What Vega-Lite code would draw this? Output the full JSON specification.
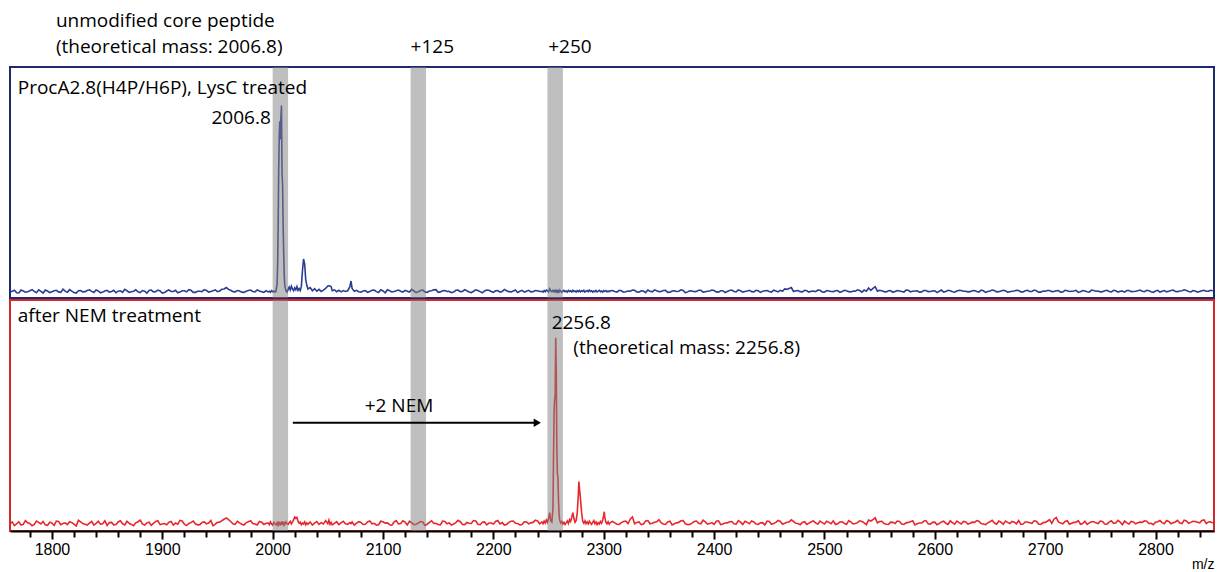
{
"$schema": "https://vega.github.io/schema/vega-lite/v6.json",
"padding": {"left": 9, "top": 0, "right": 6, "bottom": 0},
"background": "white",
"spacing": 0,
"config": {"view": {"strokeWidth": 2}, "axis": {"grid": false}, "text": {"font": "Open Sans"}},
"datasets": {
"bands": [{"start": 2000, "end": 2014}, {"start": 2125, "end": 2139}, {"start": 2249, "end": 2263}],
"spec": [
{"mz":1762,"a":0.6,"b":1.2},{"mz":1766,"a":1.4,"b":0.4},{"mz":1770,"a":0.2,"b":2.1},{"mz":1774,"a":1.1,"b":0.9},{"mz":1778,"a":0.8,"b":1.6},{"mz":1782,"a":1.7,"b":0.3},{"mz":1786,"a":0.3,"b":2.4},{"mz":1790,"a":0.9,"b":1.1},{"mz":1794,"a":1.5,"b":0.7},{"mz":1798,"a":0.4,"b":1.9},
{"mz":1802,"a":1.2,"b":0.5},{"mz":1806,"a":0.7,"b":2.2},{"mz":1810,"a":1.9,"b":1.3},{"mz":1814,"a":0.5,"b":0.8},{"mz":1818,"a":1.0,"b":1.7},{"mz":1822,"a":0.2,"b":0.2},{"mz":1826,"a":1.3,"b":2.0},{"mz":1830,"a":0.8,"b":1.0},{"mz":1834,"a":1.6,"b":1.5},{"mz":1838,"a":0.4,"b":0.6},
{"mz":1842,"a":1.1,"b":2.3},{"mz":1846,"a":0.6,"b":1.2},{"mz":1850,"a":1.4,"b":0.4},{"mz":1854,"a":0.9,"b":1.8},{"mz":1858,"a":0.3,"b":0.9},{"mz":1862,"a":1.2,"b":2.5},{"mz":1866,"a":1.8,"b":0.7},{"mz":1870,"a":0.5,"b":1.4},{"mz":1874,"a":1.0,"b":0.3},{"mz":1878,"a":0.7,"b":2.1},
{"mz":1882,"a":1.3,"b":1.1},{"mz":1886,"a":0.2,"b":1.6},{"mz":1890,"a":1.5,"b":0.5},{"mz":1894,"a":0.8,"b":2.2},{"mz":1898,"a":1.1,"b":0.8},{"mz":1902,"a":0.4,"b":1.3},{"mz":1906,"a":1.6,"b":1.9},{"mz":1910,"a":0.9,"b":0.6},{"mz":1914,"a":0.3,"b":1.0},{"mz":1918,"a":1.2,"b":2.4},
{"mz":1922,"a":0.7,"b":0.4},{"mz":1926,"a":1.4,"b":1.7},{"mz":1930,"a":0.5,"b":1.2},{"mz":1934,"a":1.0,"b":0.8},{"mz":1938,"a":1.7,"b":2.0},{"mz":1942,"a":0.6,"b":1.5},{"mz":1946,"a":1.2,"b":0.3},{"mz":1950,"a":0.8,"b":1.8},{"mz":1954,"a":1.9,"b":2.6},{"mz":1958,"a":2.6,"b":3.8},
{"mz":1962,"a":1.4,"b":2.2},{"mz":1966,"a":0.7,"b":0.9},{"mz":1970,"a":1.1,"b":1.6},{"mz":1974,"a":0.5,"b":0.6},{"mz":1978,"a":1.3,"b":2.1},{"mz":1982,"a":0.9,"b":1.3},{"mz":1986,"a":1.6,"b":0.7},{"mz":1990,"a":0.8,"b":1.9},{"mz":1994,"a":1.2,"b":1.4},
{"mz":1996,"a":0.7,"b":1.5},{"mz":1997,"a":1.0,"b":0.8},{"mz":1998,"a":0.5,"b":2.0},{"mz":1999,"a":1.2,"b":1.1},{"mz":2000,"a":0.8,"b":0.6},{"mz":2001,"a":1.1,"b":1.8},{"mz":2002,"a":0.6,"b":1.2},{"mz":2003,"a":1.0,"b":0.7},
{"mz":2004,"a":4,"b":1.6},{"mz":2004.5,"a":12,"b":1.0},{"mz":2005,"a":30,"b":2.1},{"mz":2005.5,"a":55,"b":0.9},{"mz":2006,"a":70,"b":1.4},{"mz":2006.5,"a":76,"b":0.6},{"mz":2007,"a":68,"b":1.9},{"mz":2007.5,"a":78,"b":1.1},{"mz":2008,"a":83,"b":1.6},{"mz":2008.5,"a":53,"b":0.8},{"mz":2009,"a":48,"b":2.2},{"mz":2009.5,"a":30,"b":1.3},{"mz":2010,"a":18,"b":0.7},{"mz":2010.5,"a":8,"b":1.5},{"mz":2011,"a":3.5,"b":1.0},
{"mz":2012,"a":1.2,"b":2.0},{"mz":2013,"a":0.6,"b":1.2},{"mz":2014,"a":1.8,"b":0.9},{"mz":2015,"a":2.8,"b":1.7},{"mz":2016,"a":1.5,"b":2.3},{"mz":2017,"a":3.2,"b":1.1},{"mz":2018,"a":2.0,"b":2.0},{"mz":2019,"a":1.2,"b":3.0},{"mz":2020,"a":2.5,"b":4.2},{"mz":2021,"a":1.6,"b":3.6},{"mz":2022,"a":3.0,"b":4.0},{"mz":2023,"a":1.4,"b":2.2},{"mz":2024,"a":2.2,"b":1.4},{"mz":2025,"a":1.3,"b":1.9},{"mz":2026,"a":3.0,"b":0.8},{"mz":2027,"a":10,"b":1.5},{"mz":2028,"a":15.2,"b":1.1},{"mz":2029,"a":13,"b":2.0},{"mz":2030,"a":6,"b":0.7},{"mz":2031,"a":3.5,"b":1.6},{"mz":2032,"a":2.0,"b":1.0},
{"mz":2034,"a":2.6,"b":2.0},{"mz":2036,"a":1.2,"b":0.6},{"mz":2038,"a":2.1,"b":1.5},{"mz":2040,"a":1.0,"b":2.2},{"mz":2042,"a":1.8,"b":0.9},{"mz":2044,"a":0.9,"b":1.7},{"mz":2046,"a":1.5,"b":1.1},{"mz":2048,"a":2.2,"b":2.6},{"mz":2050,"a":3.3,"b":1.2},{"mz":2051,"a":3.4,"b":2.8},{"mz":2052,"a":3.3,"b":1.0},{"mz":2053,"a":3.0,"b":1.8},{"mz":2054,"a":1.2,"b":0.7},{"mz":2056,"a":1.6,"b":1.4},{"mz":2058,"a":0.8,"b":2.1},{"mz":2060,"a":1.4,"b":0.8},{"mz":2062,"a":0.7,"b":1.6},{"mz":2064,"a":1.3,"b":2.3},{"mz":2066,"a":0.9,"b":1.2},{"mz":2068,"a":1.2,"b":0.9},{"mz":2070,"a":3.0,"b":1.7},{"mz":2071,"a":5.5,"b":1.3},{"mz":2072,"a":2.2,"b":2.0},{"mz":2074,"a":1.0,"b":0.6},{"mz":2076,"a":1.4,"b":1.5},{"mz":2078,"a":0.8,"b":2.1},
{"mz":2082,"a":1.1,"b":0.9},{"mz":2086,"a":0.5,"b":2.0},{"mz":2090,"a":1.4,"b":1.2},{"mz":2094,"a":0.8,"b":0.6},{"mz":2098,"a":1.6,"b":2.3},{"mz":2102,"a":0.3,"b":1.5},{"mz":2106,"a":1.2,"b":0.8},{"mz":2110,"a":0.9,"b":1.9},{"mz":2114,"a":1.5,"b":1.1},{"mz":2118,"a":0.6,"b":2.5},
{"mz":2122,"a":1.0,"b":0.7},{"mz":2126,"a":1.8,"b":1.6},{"mz":2130,"a":0.4,"b":1.0},{"mz":2134,"a":1.3,"b":2.2},{"mz":2138,"a":0.7,"b":0.5},{"mz":2142,"a":1.1,"b":1.8},{"mz":2146,"a":1.6,"b":1.3},{"mz":2150,"a":0.5,"b":0.9},{"mz":2154,"a":1.2,"b":2.4},{"mz":2158,"a":0.9,"b":1.2},
{"mz":2162,"a":0.4,"b":0.6},{"mz":2166,"a":1.4,"b":1.7},{"mz":2170,"a":0.8,"b":2.1},{"mz":2174,"a":1.7,"b":0.8},{"mz":2178,"a":0.6,"b":1.4},{"mz":2182,"a":1.0,"b":2.6},{"mz":2186,"a":1.3,"b":1.0},{"mz":2190,"a":0.3,"b":1.9},{"mz":2194,"a":1.5,"b":0.7},{"mz":2198,"a":0.9,"b":1.5},
{"mz":2202,"a":1.2,"b":2.2},{"mz":2206,"a":0.6,"b":1.1},{"mz":2210,"a":1.8,"b":0.6},{"mz":2214,"a":0.8,"b":1.8},{"mz":2218,"a":1.1,"b":2.4},{"mz":2222,"a":0.4,"b":1.3},{"mz":2226,"a":1.4,"b":0.9},{"mz":2230,"a":1.0,"b":2.0},{"mz":2234,"a":0.7,"b":1.6},{"mz":2238,"a":1.3,"b":2.8},{"mz":2242,"a":0.9,"b":1.2},
{"mz":2244,"a":1.0,"b":2.0},{"mz":2245,"a":0.6,"b":1.2},{"mz":2246,"a":1.3,"b":2.4},{"mz":2247,"a":0.8,"b":1.5},{"mz":2248,"a":1.5,"b":2.8},{"mz":2249,"a":1.1,"b":1.8},{"mz":2250,"a":0.7,"b":3.5},{"mz":2251,"a":2.0,"b":6.1},{"mz":2252,"a":1.2,"b":2.5},{"mz":2253,"a":0.8,"b":2.0},
{"mz":2254,"a":1.4,"b":8},{"mz":2254.5,"a":1.0,"b":30},{"mz":2255,"a":0.7,"b":50},{"mz":2255.5,"a":1.2,"b":56},{"mz":2256,"a":0.9,"b":58},{"mz":2256.5,"a":1.3,"b":83.3},{"mz":2257,"a":0.8,"b":68},{"mz":2257.5,"a":1.1,"b":35},{"mz":2258,"a":0.6,"b":23},{"mz":2258.5,"a":1.2,"b":22},{"mz":2259,"a":0.9,"b":12},{"mz":2259.5,"a":1.4,"b":6},{"mz":2260,"a":0.7,"b":3},
{"mz":2261,"a":1.2,"b":1.6},{"mz":2262,"a":0.5,"b":2.2},{"mz":2263,"a":1.0,"b":1.0},{"mz":2264,"a":1.4,"b":1.8},{"mz":2265,"a":0.8,"b":0.9},{"mz":2266,"a":1.1,"b":1.6},{"mz":2267,"a":0.6,"b":2.4},{"mz":2268,"a":1.3,"b":1.3},{"mz":2269,"a":0.9,"b":3.0},{"mz":2270,"a":1.2,"b":2.2},{"mz":2271,"a":0.7,"b":4.0},{"mz":2272,"a":1.4,"b":6.1},{"mz":2273,"a":0.9,"b":3.5},{"mz":2274,"a":1.1,"b":1.8},{"mz":2275,"a":0.6,"b":2.6},{"mz":2276,"a":1.2,"b":6},{"mz":2277,"a":0.8,"b":14},{"mz":2277.5,"a":1.0,"b":19.8},{"mz":2278,"a":1.3,"b":17},{"mz":2279,"a":0.7,"b":12},{"mz":2280,"a":1.2,"b":6},{"mz":2281,"a":0.9,"b":2.2},
{"mz":2282,"a":1.4,"b":1.4},{"mz":2283,"a":0.6,"b":2.5},{"mz":2284,"a":1.0,"b":1.2},{"mz":2285,"a":1.3,"b":2.0},{"mz":2286,"a":0.8,"b":1.1},{"mz":2287,"a":1.5,"b":2.3},{"mz":2288,"a":0.9,"b":1.5},{"mz":2289,"a":1.2,"b":0.9},{"mz":2290,"a":0.6,"b":1.8},{"mz":2291,"a":1.1,"b":2.6},{"mz":2292,"a":0.8,"b":1.2},{"mz":2293,"a":1.3,"b":2.0},{"mz":2294,"a":0.7,"b":0.8},{"mz":2295,"a":1.0,"b":1.7},{"mz":2296,"a":1.4,"b":1.1},{"mz":2297,"a":0.8,"b":2.2},{"mz":2298,"a":1.1,"b":1.4},{"mz":2299,"a":0.6,"b":2.6},{"mz":2300,"a":1.2,"b":5.0},{"mz":2300.5,"a":1.0,"b":6.5},{"mz":2301,"a":0.9,"b":4.0},{"mz":2302,"a":1.3,"b":1.8},{"mz":2303,"a":0.7,"b":1.2},{"mz":2304,"a":1.1,"b":2.1},{"mz":2305,"a":0.8,"b":1.0},{"mz":2306,"a":1.2,"b":1.7},
{"mz":2310,"a":0.9,"b":1.6},{"mz":2314,"a":1.4,"b":0.9},{"mz":2318,"a":0.6,"b":2.2},{"mz":2322,"a":1.1,"b":1.3},{"mz":2326,"a":1.5,"b":4.2},{"mz":2330,"a":0.7,"b":1.8},{"mz":2334,"a":1.2,"b":0.8},{"mz":2338,"a":0.4,"b":2.4},{"mz":2342,"a":1.0,"b":1.2},{"mz":2346,"a":1.6,"b":1.9},
{"mz":2350,"a":0.8,"b":3.0},{"mz":2354,"a":1.3,"b":1.1},{"mz":2358,"a":0.5,"b":2.0},{"mz":2362,"a":1.1,"b":0.7},{"mz":2366,"a":0.9,"b":1.6},{"mz":2370,"a":1.6,"b":2.5},{"mz":2374,"a":0.3,"b":1.2},{"mz":2378,"a":1.2,"b":0.9},{"mz":2382,"a":0.8,"b":2.2},{"mz":2386,"a":1.4,"b":1.4},
{"mz":2390,"a":0.6,"b":2.8},{"mz":2394,"a":1.0,"b":1.0},{"mz":2398,"a":1.5,"b":1.7},{"mz":2402,"a":0.7,"b":2.3},{"mz":2406,"a":1.2,"b":0.8},{"mz":2410,"a":0.4,"b":1.5},{"mz":2414,"a":1.3,"b":2.1},{"mz":2418,"a":0.9,"b":1.2},{"mz":2422,"a":1.6,"b":2.6},{"mz":2426,"a":0.6,"b":0.9},
{"mz":2430,"a":1.1,"b":1.8},{"mz":2434,"a":0.8,"b":2.4},{"mz":2438,"a":1.4,"b":1.1},{"mz":2442,"a":0.5,"b":1.6},{"mz":2446,"a":1.2,"b":0.7},{"mz":2450,"a":0.9,"b":2.2},{"mz":2454,"a":1.5,"b":1.3},{"mz":2458,"a":0.7,"b":2.7},{"mz":2462,"a":1.0,"b":1.0},{"mz":2466,"a":1.8,"b":1.9},
{"mz":2470,"a":2.6,"b":2.9},{"mz":2474,"a":1.2,"b":1.4},{"mz":2478,"a":0.8,"b":0.8},{"mz":2482,"a":1.4,"b":2.1},{"mz":2486,"a":0.6,"b":1.5},{"mz":2490,"a":1.1,"b":2.5},{"mz":2494,"a":1.5,"b":1.0},{"mz":2498,"a":0.7,"b":1.7},{"mz":2502,"a":1.3,"b":2.3},{"mz":2506,"a":0.9,"b":1.2},
{"mz":2510,"a":1.2,"b":0.9},{"mz":2514,"a":0.5,"b":2.0},{"mz":2518,"a":1.4,"b":1.4},{"mz":2522,"a":0.8,"b":2.6},{"mz":2526,"a":1.1,"b":1.1},{"mz":2530,"a":1.6,"b":1.7},{"mz":2534,"a":0.6,"b":2.2},{"mz":2538,"a":1.0,"b":0.8},{"mz":2542,"a":1.4,"b":2.4},{"mz":2546,"a":3.0,"b":3.8},
{"mz":2550,"a":1.4,"b":2.2},{"mz":2554,"a":0.8,"b":1.3},{"mz":2558,"a":1.2,"b":0.9},{"mz":2562,"a":0.5,"b":1.8},{"mz":2566,"a":1.3,"b":2.4},{"mz":2570,"a":0.9,"b":1.1},{"mz":2574,"a":1.5,"b":1.6},{"mz":2578,"a":0.7,"b":2.1},{"mz":2582,"a":1.1,"b":0.7},{"mz":2586,"a":0.6,"b":1.5},
{"mz":2590,"a":1.3,"b":2.3},{"mz":2594,"a":0.8,"b":1.2},{"mz":2598,"a":1.1,"b":1.8},{"mz":2602,"a":0.4,"b":0.8},{"mz":2606,"a":1.5,"b":2.0},{"mz":2610,"a":0.9,"b":1.4},{"mz":2614,"a":1.2,"b":2.5},{"mz":2618,"a":0.6,"b":1.0},{"mz":2622,"a":1.4,"b":1.7},{"mz":2626,"a":1.0,"b":2.2},
{"mz":2630,"a":0.7,"b":1.1},{"mz":2634,"a":1.2,"b":1.9},{"mz":2638,"a":0.9,"b":2.6},{"mz":2642,"a":1.5,"b":1.3},{"mz":2646,"a":0.5,"b":0.8},{"mz":2650,"a":1.1,"b":2.1},{"mz":2654,"a":1.3,"b":1.5},{"mz":2658,"a":0.8,"b":2.4},{"mz":2662,"a":1.4,"b":1.0},{"mz":2666,"a":0.6,"b":1.8},
{"mz":2670,"a":1.0,"b":2.2},{"mz":2674,"a":1.4,"b":1.2},{"mz":2678,"a":0.7,"b":0.9},{"mz":2682,"a":1.2,"b":2.0},{"mz":2686,"a":0.9,"b":1.6},{"mz":2690,"a":1.5,"b":2.5},{"mz":2694,"a":0.6,"b":1.1},{"mz":2698,"a":1.1,"b":1.7},{"mz":2702,"a":1.3,"b":2.3},{"mz":2706,"a":0.8,"b":1.4},
{"mz":2710,"a":1.2,"b":4.0},{"mz":2714,"a":0.6,"b":1.5},{"mz":2718,"a":1.4,"b":2.2},{"mz":2722,"a":0.9,"b":1.0},{"mz":2726,"a":1.1,"b":1.8},{"mz":2730,"a":0.5,"b":2.6},{"mz":2734,"a":1.3,"b":1.3},{"mz":2738,"a":0.8,"b":0.9},{"mz":2742,"a":1.5,"b":2.1},{"mz":2746,"a":1.0,"b":1.6},
{"mz":2750,"a":0.7,"b":2.4},{"mz":2754,"a":1.2,"b":1.1},{"mz":2758,"a":0.9,"b":1.9},{"mz":2762,"a":1.4,"b":1.4},{"mz":2766,"a":0.6,"b":2.7},{"mz":2770,"a":1.1,"b":0.8},{"mz":2774,"a":1.3,"b":1.6},{"mz":2778,"a":0.8,"b":2.2},{"mz":2782,"a":1.0,"b":1.2},{"mz":2786,"a":1.5,"b":1.9},
{"mz":2790,"a":0.8,"b":2.5},{"mz":2794,"a":1.2,"b":1.3},{"mz":2798,"a":0.5,"b":0.8},{"mz":2802,"a":1.4,"b":2.1},{"mz":2806,"a":1.0,"b":1.7},{"mz":2810,"a":0.7,"b":2.6},{"mz":2814,"a":1.3,"b":1.2},{"mz":2818,"a":0.9,"b":2.0},{"mz":2822,"a":1.1,"b":1.5},{"mz":2826,"a":1.6,"b":2.8},
{"mz":2830,"a":0.9,"b":1.4},{"mz":2834,"a":1.3,"b":2.3},{"mz":2838,"a":0.6,"b":1.9},{"mz":2842,"a":1.2,"b":2.7},{"mz":2846,"a":1.0,"b":1.3},{"mz":2850,"a":1.4,"b":2.1},
{"mz":1764,"a":1.0,"b":2.0},{"mz":1768,"a":0.3,"b":1.1},{"mz":1772,"a":1.5,"b":0.6},{"mz":1776,"a":0.6,"b":2.6},{"mz":1780,"a":1.2,"b":1.3},{"mz":1784,"a":0.9,"b":0.9},{"mz":1788,"a":1.6,"b":1.8},{"mz":1792,"a":0.2,"b":2.2},{"mz":1796,"a":1.1,"b":0.5},{"mz":1800,"a":0.8,"b":1.5},
{"mz":1804,"a":1.4,"b":2.4},{"mz":1808,"a":0.5,"b":0.8},{"mz":1812,"a":1.0,"b":1.6},{"mz":1816,"a":1.7,"b":2.1},{"mz":1820,"a":0.4,"b":1.0},{"mz":1824,"a":1.2,"b":2.7},{"mz":1828,"a":0.7,"b":1.3},{"mz":1832,"a":1.3,"b":0.6},{"mz":1836,"a":0.9,"b":2.2},{"mz":1840,"a":1.5,"b":1.4},
{"mz":1844,"a":0.3,"b":1.0},{"mz":1848,"a":1.1,"b":2.5},{"mz":1852,"a":0.6,"b":1.7},{"mz":1856,"a":1.4,"b":0.7},{"mz":1860,"a":1.0,"b":2.0},{"mz":1864,"a":0.5,"b":1.2},{"mz":1868,"a":1.2,"b":2.3},{"mz":1872,"a":0.8,"b":0.9},{"mz":1876,"a":1.6,"b":1.6},{"mz":1880,"a":0.4,"b":2.8},
{"mz":1884,"a":1.0,"b":0.6},{"mz":1888,"a":1.3,"b":1.9},{"mz":1892,"a":0.7,"b":1.4},{"mz":1896,"a":1.5,"b":2.5},{"mz":1900,"a":0.2,"b":1.1},{"mz":1904,"a":1.1,"b":0.8},{"mz":1908,"a":0.9,"b":2.2},{"mz":1912,"a":1.4,"b":1.5},{"mz":1916,"a":0.6,"b":2.7},{"mz":1920,"a":1.2,"b":1.0},
{"mz":1924,"a":1.7,"b":1.3},{"mz":1928,"a":0.5,"b":2.4},{"mz":1932,"a":1.0,"b":0.7},{"mz":1936,"a":0.8,"b":1.8},{"mz":1940,"a":1.3,"b":1.2},{"mz":1944,"a":0.9,"b":2.6},{"mz":1948,"a":1.6,"b":1.0},{"mz":1952,"a":1.1,"b":1.9},{"mz":1956,"a":2.0,"b":3.2},{"mz":1960,"a":1.8,"b":3.0},
{"mz":1964,"a":0.8,"b":1.2},{"mz":1968,"a":1.3,"b":2.3},{"mz":1972,"a":0.6,"b":1.0},{"mz":1976,"a":1.0,"b":1.7},{"mz":1980,"a":1.5,"b":2.5},{"mz":1984,"a":0.7,"b":1.1},{"mz":1988,"a":1.1,"b":2.2},{"mz":1992,"a":0.5,"b":0.9},
{"mz":2080,"a":0.6,"b":1.8},{"mz":2084,"a":1.3,"b":1.0},{"mz":2088,"a":0.9,"b":2.4},{"mz":2092,"a":1.5,"b":1.4},{"mz":2096,"a":0.4,"b":0.8},{"mz":2100,"a":1.1,"b":2.1},{"mz":2104,"a":1.6,"b":1.6},{"mz":2108,"a":0.7,"b":0.6},{"mz":2112,"a":1.2,"b":2.6},{"mz":2116,"a":1.0,"b":1.3},
{"mz":2120,"a":1.4,"b":1.9},{"mz":2124,"a":0.6,"b":2.3},{"mz":2128,"a":1.1,"b":0.8},{"mz":2132,"a":0.8,"b":1.5},{"mz":2136,"a":1.5,"b":2.0},{"mz":2140,"a":0.5,"b":1.0},{"mz":2144,"a":1.2,"b":2.5},{"mz":2148,"a":1.7,"b":1.4},{"mz":2152,"a":0.7,"b":0.7},{"mz":2156,"a":1.3,"b":2.2},
{"mz":2160,"a":1.0,"b":1.6},{"mz":2164,"a":0.6,"b":1.1},{"mz":2168,"a":1.5,"b":2.7},{"mz":2172,"a":0.9,"b":0.9},{"mz":2176,"a":1.2,"b":1.8},{"mz":2180,"a":0.4,"b":1.3},{"mz":2184,"a":1.6,"b":2.4},{"mz":2188,"a":0.8,"b":0.8},{"mz":2192,"a":1.1,"b":2.0},{"mz":2196,"a":1.4,"b":1.5},
{"mz":2200,"a":0.5,"b":1.1},{"mz":2204,"a":1.3,"b":2.6},{"mz":2208,"a":0.9,"b":1.7},{"mz":2212,"a":1.2,"b":0.9},{"mz":2216,"a":0.7,"b":2.3},{"mz":2220,"a":1.5,"b":1.4},{"mz":2224,"a":1.0,"b":0.7},{"mz":2228,"a":0.6,"b":2.1},{"mz":2232,"a":1.4,"b":1.2},{"mz":2236,"a":0.8,"b":1.8},{"mz":2240,"a":1.2,"b":2.4},
{"mz":2308,"a":1.3,"b":2.2},{"mz":2312,"a":0.6,"b":1.0},{"mz":2316,"a":1.2,"b":1.7},{"mz":2320,"a":0.8,"b":2.4},{"mz":2324,"a":1.0,"b":3.2},{"mz":2328,"a":1.4,"b":1.2},{"mz":2332,"a":0.6,"b":2.0},{"mz":2336,"a":1.1,"b":1.1},{"mz":2340,"a":1.5,"b":2.6},{"mz":2344,"a":0.7,"b":1.4},
{"mz":2348,"a":1.2,"b":2.1},{"mz":2352,"a":0.9,"b":1.7},{"mz":2356,"a":1.4,"b":0.9},{"mz":2360,"a":0.6,"b":2.3},{"mz":2364,"a":1.2,"b":1.2},{"mz":2368,"a":1.0,"b":1.8},{"mz":2372,"a":1.3,"b":2.6},{"mz":2376,"a":0.7,"b":0.8},{"mz":2380,"a":1.1,"b":1.5},{"mz":2384,"a":0.9,"b":2.4},
{"mz":2388,"a":1.4,"b":1.2},{"mz":2392,"a":0.8,"b":2.0},{"mz":2396,"a":1.1,"b":1.3},{"mz":2400,"a":1.3,"b":0.9},{"mz":2404,"a":0.6,"b":2.5},{"mz":2408,"a":1.2,"b":1.1},{"mz":2412,"a":0.9,"b":1.6},{"mz":2416,"a":1.5,"b":2.2},{"mz":2420,"a":0.7,"b":1.0},{"mz":2424,"a":1.2,"b":1.9},
{"mz":2428,"a":0.9,"b":2.3},{"mz":2432,"a":1.4,"b":1.2},{"mz":2436,"a":0.7,"b":2.0},{"mz":2440,"a":1.2,"b":0.9},{"mz":2444,"a":1.0,"b":1.7},{"mz":2448,"a":1.3,"b":2.4},{"mz":2452,"a":0.6,"b":1.0},{"mz":2456,"a":1.1,"b":1.8},{"mz":2460,"a":1.4,"b":2.2},{"mz":2464,"a":2.0,"b":1.4},
{"mz":2468,"a":2.2,"b":2.0},{"mz":2472,"a":0.9,"b":2.2},{"mz":2476,"a":1.3,"b":1.3},{"mz":2480,"a":0.7,"b":1.8},{"mz":2484,"a":1.2,"b":0.9},{"mz":2488,"a":1.0,"b":2.1},{"mz":2492,"a":0.8,"b":1.6},{"mz":2496,"a":1.4,"b":2.4},{"mz":2500,"a":0.6,"b":1.1},{"mz":2504,"a":1.1,"b":1.8},
{"mz":2508,"a":0.8,"b":2.5},{"mz":2512,"a":1.3,"b":1.2},{"mz":2516,"a":0.9,"b":2.1},{"mz":2520,"a":1.2,"b":0.9},{"mz":2524,"a":0.7,"b":1.9},{"mz":2528,"a":1.0,"b":1.3},{"mz":2532,"a":1.3,"b":2.5},{"mz":2536,"a":1.5,"b":1.6},{"mz":2540,"a":2.4,"b":2.8},{"mz":2544,"a":2.2,"b":3.0},
{"mz":2548,"a":1.0,"b":1.6},{"mz":2552,"a":1.2,"b":2.3},{"mz":2556,"a":0.7,"b":1.0},{"mz":2560,"a":1.3,"b":1.9},{"mz":2564,"a":0.9,"b":1.3},{"mz":2568,"a":1.1,"b":2.2},{"mz":2572,"a":0.6,"b":0.9},{"mz":2576,"a":1.4,"b":1.8},{"mz":2580,"a":1.0,"b":2.5},{"mz":2584,"a":1.2,"b":1.2},
{"mz":2588,"a":0.7,"b":1.5},{"mz":2592,"a":1.3,"b":2.6},{"mz":2596,"a":0.9,"b":1.0},{"mz":2600,"a":1.2,"b":1.9},{"mz":2604,"a":1.0,"b":1.3},{"mz":2608,"a":0.6,"b":2.3},{"mz":2612,"a":1.4,"b":0.9},{"mz":2616,"a":0.8,"b":1.7},{"mz":2620,"a":1.1,"b":2.4},{"mz":2624,"a":1.3,"b":1.1},
{"mz":2628,"a":1.0,"b":2.0},{"mz":2632,"a":0.8,"b":1.4},{"mz":2636,"a":1.3,"b":1.8},{"mz":2640,"a":0.6,"b":2.3},{"mz":2644,"a":1.2,"b":1.1},{"mz":2648,"a":0.9,"b":1.6},{"mz":2652,"a":1.5,"b":2.7},{"mz":2656,"a":0.7,"b":1.0},{"mz":2660,"a":1.1,"b":1.9},{"mz":2664,"a":1.2,"b":2.4},
{"mz":2668,"a":0.8,"b":1.3},{"mz":2672,"a":1.1,"b":1.9},{"mz":2676,"a":1.3,"b":2.6},{"mz":2680,"a":0.7,"b":1.1},{"mz":2684,"a":1.4,"b":2.0},{"mz":2688,"a":0.9,"b":1.4},{"mz":2692,"a":1.2,"b":2.3},{"mz":2696,"a":0.6,"b":0.9},{"mz":2700,"a":1.0,"b":1.8},{"mz":2704,"a":1.3,"b":3.0},
{"mz":2708,"a":0.9,"b":3.2},{"mz":2712,"a":1.3,"b":2.0},{"mz":2716,"a":0.7,"b":1.2},{"mz":2720,"a":1.2,"b":2.5},{"mz":2724,"a":1.0,"b":1.4},{"mz":2728,"a":1.4,"b":1.9},{"mz":2732,"a":0.8,"b":1.0},{"mz":2736,"a":1.1,"b":2.3},{"mz":2740,"a":0.6,"b":1.6},{"mz":2744,"a":1.3,"b":2.1},
{"mz":2748,"a":1.1,"b":1.3},{"mz":2752,"a":0.8,"b":2.2},{"mz":2756,"a":1.4,"b":1.0},{"mz":2760,"a":0.7,"b":2.5},{"mz":2764,"a":1.2,"b":1.5},{"mz":2768,"a":1.0,"b":1.9},{"mz":2772,"a":0.6,"b":2.4},{"mz":2776,"a":1.3,"b":1.1},{"mz":2780,"a":0.9,"b":2.0},{"mz":2784,"a":1.2,"b":1.6},
{"mz":2788,"a":1.0,"b":1.8},{"mz":2792,"a":1.4,"b":2.3},{"mz":2796,"a":0.8,"b":1.4},{"mz":2800,"a":1.1,"b":1.9},{"mz":2804,"a":0.6,"b":2.6},{"mz":2808,"a":1.3,"b":1.2},{"mz":2812,"a":1.0,"b":2.2},{"mz":2816,"a":1.5,"b":1.6},{"mz":2820,"a":0.8,"b":2.7},{"mz":2824,"a":1.2,"b":1.3},
{"mz":2828,"a":1.3,"b":2.4},{"mz":2832,"a":0.7,"b":1.8},{"mz":2836,"a":1.1,"b":2.2},{"mz":2840,"a":0.9,"b":1.6},{"mz":2844,"a":1.4,"b":2.9},{"mz":2848,"a":1.0,"b":2.0},{"mz":2852,"a":1.2,"b":1.5}
]
},
"vconcat": [
{
"width": 1204, "height": 66, "view": {"stroke": null},
"data": {"values": [
{"label": "unmodified core peptide", "mz": 1803.6, "row": 0.68},
{"label": "(theoretical mass: 2006.8)", "mz": 1803.6, "row": 0.29},
{"label": "+125", "mz": 2125, "row": 0.29},
{"label": "+250", "mz": 2249.7, "row": 0.29}
]},
"mark": {"type": "text", "align": "left", "baseline": "middle", "fontSize": 19, "font": "Open Sans", "color": "black"},
"encoding": {
"x": {"field": "mz", "type": "quantitative", "scale": {"domain": [1762, 2853], "nice": false, "zero": false}, "axis": null},
"y": {"field": "row", "type": "quantitative", "scale": {"domain": [0, 1]}, "axis": null},
"text": {"field": "label"}
}
},
{
"width": 1204, "height": 231, "view": {"stroke": "#1c2a6e", "strokeWidth": 2},
"layer": [
{"data": {"name": "spec"}, "mark": {"type": "line", "color": "#2b3d94", "strokeWidth": 1.6, "clip": true},
"encoding": {
"x": {"field": "mz", "type": "quantitative", "scale": {"domain": [1762, 2853], "nice": false, "zero": false}, "axis": {"labels": false, "ticks": false, "title": null, "domainColor": "black", "domainWidth": 2, "grid": false}},
"y": {"field": "a", "type": "quantitative", "scale": {"domain": [-2, 100], "nice": false, "zero": false}, "axis": {"labels": false, "ticks": false, "title": null, "domainColor": "black", "domainWidth": 2, "grid": false}}
}},
{"data": {"name": "bands"}, "mark": {"type": "rect", "color": "#7f7f7f", "opacity": 0.5},
"encoding": {"x": {"field": "start", "type": "quantitative", "axis": null}, "x2": {"field": "end"}}},
{"data": {"values": [{"label": "ProcA2.8(H4P/H6P), LysC treated", "mz": 1769, "v": 90.7}]},
"mark": {"type": "text", "align": "left", "baseline": "middle", "fontSize": 19, "font": "Open Sans", "color": "black"},
"encoding": {"x": {"field": "mz", "type": "quantitative", "axis": null}, "y": {"field": "v", "type": "quantitative", "axis": null}, "text": {"field": "label"}}},
{"data": {"values": [{"label": "2006.8", "mz": 1998.3, "v": 77.5}]},
"mark": {"type": "text", "align": "right", "baseline": "middle", "fontSize": 19, "font": "Open Sans", "color": "black"},
"encoding": {"x": {"field": "mz", "type": "quantitative", "axis": null}, "y": {"field": "v", "type": "quantitative", "axis": null}, "text": {"field": "label"}}}
]
},
{
"width": 1204, "height": 231, "view": {"stroke": "#d8262b", "strokeWidth": 2},
"resolve": {"axis": {"x": "independent"}},
"layer": [
{"data": {"name": "spec"}, "mark": {"type": "line", "color": "#e8262b", "strokeWidth": 1.6, "clip": true},
"encoding": {
"x": {"field": "mz", "type": "quantitative", "scale": {"domain": [1762, 2853], "nice": false, "zero": false},
"axis": {"orient": "bottom", "values": [1800, 1900, 2000, 2100, 2200, 2300, 2400, 2500, 2600, 2700, 2800], "format": "d", "tickSize": 8, "tickWidth": 2, "tickColor": "black", "domainColor": "black", "domainWidth": 2, "labelFont": "Liberation Sans", "labelFontSize": 16, "labelColor": "black", "labelPadding": 2, "title": "m/z", "titleFont": "Liberation Sans", "titleFontSize": 14, "titleFontWeight": "normal", "titleColor": "black", "titleAnchor": "end", "titleAlign": "right", "titlePadding": 0, "grid": false}},
"y": {"field": "b", "type": "quantitative", "scale": {"domain": [-2, 100], "nice": false, "zero": false}, "axis": {"labels": false, "ticks": false, "title": null, "domainColor": "black", "domainWidth": 2, "grid": false}}
}},
{"data": {"name": "bands"}, "mark": {"type": "rect", "color": "#7f7f7f", "opacity": 0.5},
"encoding": {"x": {"field": "start", "type": "quantitative",
"axis": {"orient": "bottom", "values": [1780,1820,1840,1860,1880,1920,1940,1960,1980,2020,2040,2060,2080,2120,2140,2160,2180,2220,2240,2260,2280,2320,2340,2360,2380,2420,2440,2460,2480,2520,2540,2560,2580,2620,2640,2660,2680,2720,2740,2760,2780,2820,2840], "labels": false, "domain": false, "tickSize": 6, "tickWidth": 2, "tickColor": "black", "title": null, "grid": false}},
"x2": {"field": "end"}}},
{"data": {"values": [
{"label": "after NEM treatment", "mz": 1769, "v": 92.9},
{"label": "2256.8", "mz": 2252.8, "v": 90.0},
{"label": "(theoretical mass: 2256.8)", "mz": 2272.5, "v": 78.9},
{"label": "+2 NEM", "mz": 2083.4, "v": 53.2}
]},
"mark": {"type": "text", "align": "left", "baseline": "middle", "fontSize": 19, "font": "Open Sans", "color": "black"},
"encoding": {"x": {"field": "mz", "type": "quantitative", "axis": null}, "y": {"field": "v", "type": "quantitative", "axis": null}, "text": {"field": "label"}}},
{"data": {"values": [{"x": 2018.3, "x2": 2239, "v": 45.8}]},
"mark": {"type": "rule", "color": "black", "strokeWidth": 2},
"encoding": {"x": {"field": "x", "type": "quantitative", "axis": null}, "x2": {"field": "x2"}, "y": {"field": "v", "type": "quantitative", "axis": null}}},
{"data": {"values": [{"x": 2239.8, "v": 45.8}]},
"mark": {"type": "point", "shape": "triangle-right", "filled": true, "color": "black", "size": 70, "opacity": 1},
"encoding": {"x": {"field": "x", "type": "quantitative", "axis": null}, "y": {"field": "v", "type": "quantitative", "axis": null}}}
]
}
]
}
